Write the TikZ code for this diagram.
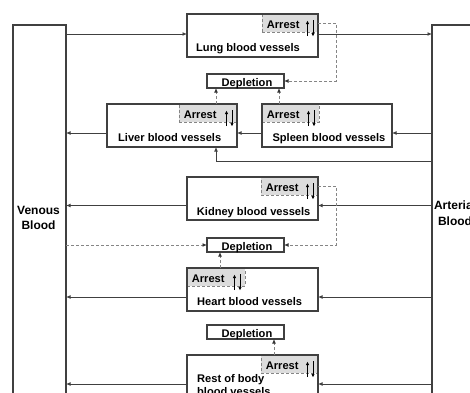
\documentclass[tikz,border=0pt]{standalone}
\usepackage{fontspec}
\setmainfont{Liberation Sans}
\usetikzlibrary{arrows.meta,calc}
\definecolor{boxc}{HTML}{404040}
\definecolor{linec}{HTML}{404040}
\definecolor{dashc}{HTML}{858585}
\definecolor{arrfill}{HTML}{DCDCDC}
\newcommand\arrestarrows[1]{%
  \draw[sarr] ($(#1.north east)+(-10.5,22)$) -- ($(#1.north east)+(-10.5,6.5)$);
  \draw[sarr] ($(#1.north east)+(-5,6)$) -- ($(#1.north east)+(-5,22.5)$);}
\begin{document}
\begin{tikzpicture}[x=1pt,y=-1pt,
  box/.style={draw=boxc, line width=1.2pt, rectangle, anchor=north west, inner sep=0pt, outer sep=0pt},
  arrestbox/.style={draw=dashc, dash pattern=on 3pt off 2pt, line width=0.9pt, fill=arrfill, rectangle, anchor=north west, inner sep=0pt, outer sep=0pt, minimum height=18pt},
  deplbox/.style={draw=boxc, line width=1.2pt, rectangle, anchor=north west, minimum width=77pt, minimum height=14pt, inner sep=0pt, outer sep=0pt},
  lab/.style={font=\bfseries\fontsize{11.1}{13}\selectfont, anchor=base west, inner sep=0pt},
  big/.style={font=\bfseries\fontsize{12}{14}\selectfont, anchor=base, inner sep=0pt},
  arr/.style={draw=linec, line width=0.8pt, -{Latex[length=4.5pt,width=3.8pt]}},
  darr/.style={draw=dashc, line width=0.9pt, dash pattern=on 3pt off 2pt, -{Latex[length=4.5pt,width=3.8pt,color=black!80]}},
  sarr/.style={draw=black, line width=0.7pt, -{Latex[length=3.6pt,width=3.6pt]}}
]
\useasboundingbox (0,0) rectangle (470,392);
\clip (0,0) rectangle (470,392);

% arrest boxes
\node[arrestbox, minimum width=56pt] (arL) at (262,14) {};
\node[arrestbox, minimum width=58pt] (arLi) at (179,104) {};
\node[arrestbox, minimum width=57pt] (arS) at (262,104) {};
\node[arrestbox, minimum width=57pt] (arK) at (261,177) {};
\node[arrestbox, minimum width=58pt] (arH) at (187,268) {};
\node[arrestbox, minimum width=57pt] (arR) at (261,355) {};

% organ boxes
\node[box, minimum width=131pt, minimum height=43pt] (lung) at (187,14) {};
\node[box, minimum width=130pt, minimum height=43pt] (liver) at (107,104) {};
\node[box, minimum width=130pt, minimum height=43pt] (spleen) at (262,104) {};
\node[box, minimum width=131pt, minimum height=43pt] (kidney) at (187,177) {};
\node[box, minimum width=131pt, minimum height=43pt] (heart) at (187,268) {};
\node[box, minimum width=131pt, minimum height=70pt] (rest) at (187,355) {};

% depletion boxes
\node[deplbox] (dep1) at (207,74) {};
\node[deplbox] (dep2) at (207,238) {};
\node[deplbox] (dep3) at (207,325) {};

% venous / arterial
\node[box, minimum width=53pt, minimum height=400pt] (ven) at (13,25) {};
\node[box, minimum width=60pt, minimum height=400pt] (art) at (432,25) {};

% texts
\node[big] (venT1) at (38.5,214.3) {Venous};
\node[big] (venT2) at (38.5,229.6) {Blood};
\node[big] (artT1) at (455,209.6) {Arterial};
\node[big] (artT2) at (455,225) {Blood};

\node[lab] (lungT) at (196,51.5) {Lung blood vessels};
\node[lab] (liverT) at (118,141.5) {Liver blood vessels};
\node[lab] (spleenT) at (272.3,141.5) {Spleen blood vessels};
\node[lab] (kidneyT) at (196.7,215) {Kidney blood vessels};
\node[lab] (heartT) at (197,305.5) {Heart blood vessels};
\node[lab] (restT1) at (197,382) {Rest of body};
\node[lab] (restT2) at (197,395) {blood vessels};

\foreach \a in {arL,arLi,arS,arK,arH,arR}{
  \node[lab] (\a T) at ($(\a.north west)+(4.7,14)$) {Arrest};
  \arrestarrows{\a}
}
\foreach \d in {dep1,dep2,dep3}{
  \node[lab, anchor=base] (\d T) at ($(\d.north)+(1.5,12.7)$) {Depletion};
}

% lung
\coordinate (lungL) at ($(lung.north west)+(0,20)$);
\coordinate (lungR) at ($(lung.north east)+(0,20)$);
\draw[arr] (lungL -| ven.east) -- (lungL);
\draw[arr] (lungR) -- (lungR -| art.west);

% liver / spleen
\coordinate (liL) at ($(liver.north west)+(0,29)$);
\coordinate (liR) at ($(liver.north east)+(0,29)$);
\coordinate (spL) at ($(spleen.north west)+(0,29)$);
\coordinate (spR) at ($(spleen.north east)+(0,29)$);
\draw[arr] (liL) -- (liL -| ven.east);
\draw[arr] (spL) -- (liR);
\draw[arr] (spR -| art.west) -- (spR);
\coordinate (liB) at ($(liver.south west)+(109,0)$);
\coordinate (liBB) at ($(liB)+(0,14)$);
\draw[arr] (liBB -| art.west) -- (liBB) -- (liB);

% kidney
\coordinate (kiL) at ($(kidney.north west)+(0,28.5)$);
\coordinate (kiR) at ($(kidney.north east)+(0,28.5)$);
\draw[arr] (kiL) -- (kiL -| ven.east);
\draw[arr] (kiR -| art.west) -- (kiR);

% heart
\coordinate (heL) at ($(heart.north west)+(0,29)$);
\coordinate (heR) at ($(heart.north east)+(0,29)$);
\draw[arr] (heL) -- (heL -| ven.east);
\draw[arr] (heR -| art.west) -- (heR);

% rest
\coordinate (reL) at ($(rest.north west)+(0,29)$);
\coordinate (reR) at ($(rest.north east)+(0,29)$);
\draw[arr] (reL) -- (reL -| ven.east);
\draw[arr] (reR -| art.west) -- (reR);

% dashed
\draw[darr] (arL.east) -- ++(18,0) |- (dep1.east);
\coordinate (liA) at ($(arLi.north west)+(37,0)$);
\draw[darr] (liA) -- (liA |- dep1.south);
\coordinate (spA) at ($(arS.north west)+(17,0)$);
\draw[darr] (spA) -- (spA |- dep1.south);
\draw[darr] (arK.east) -- ++(18,0) |- (dep2.east);
\draw[darr] (dep2.west -| ven.east) -- (dep2.west);
\coordinate (heA) at ($(arH.north west)+(33,0)$);
\draw[darr] (heA) -- (heA |- dep2.south);
\coordinate (reA) at ($(arR.north west)+(13,0)$);
\draw[darr] (reA) -- (reA |- dep3.south);
\end{tikzpicture}
\end{document}
